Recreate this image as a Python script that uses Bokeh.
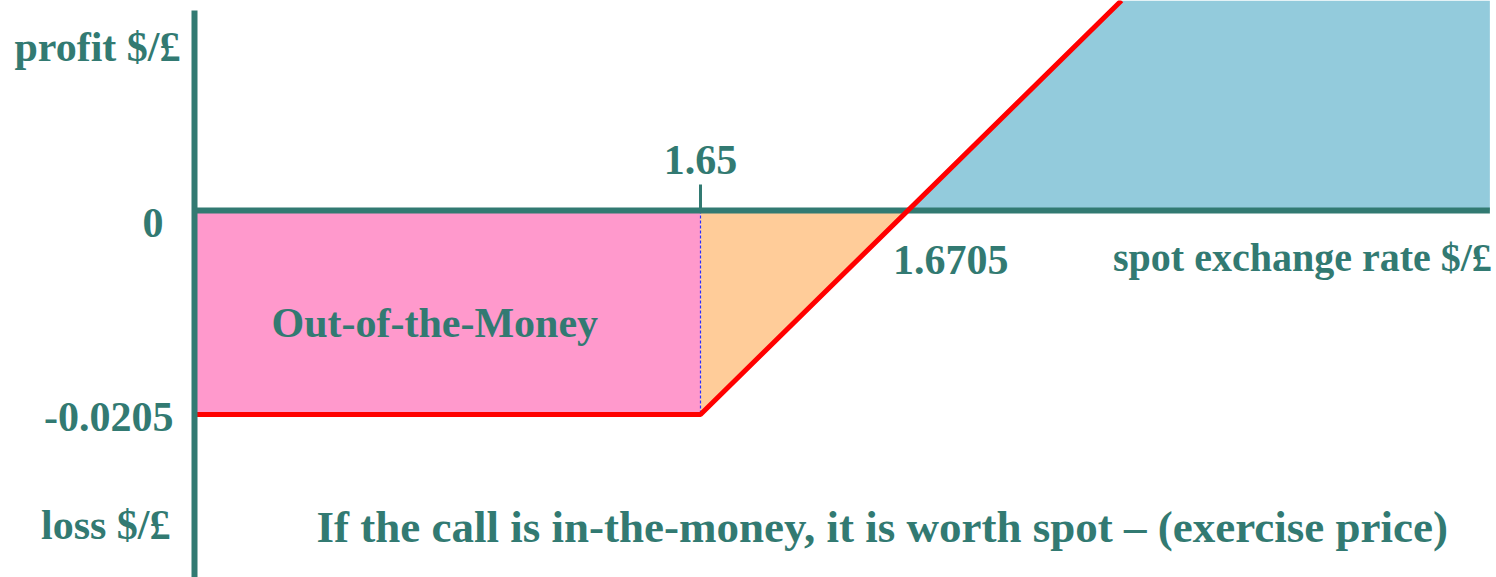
from bokeh.plotting import figure
from bokeh.models import Range1d
from bokeh.core.properties import value
from bokeh.embed import file_html
from bokeh.resources import INLINE

# ---- data ----
strike = 1.65            # exercise price $/£
premium = 0.0205         # call premium $/£
breakeven = 1.6705       # spot rate where profit = 0
axis_x = 1.60            # left end of the spot-rate axis
axis_x_end = 1.728       # right end of the spot-rate axis
axis_y_top = 0.0201      # top of the profit axis
axis_y_bottom = -0.0369  # bottom of the profit axis

# payoff (profit) line of the long call
line_spot = [1.60, 1.65, 1.6916]
line_profit = [-0.0205, -0.0205, 0.0211]

# shaded regions
otm_x = [1.60, 1.65, 1.65, 1.60]
otm_y = [0.0, 0.0, -0.0205, -0.0205]
partial_x = [1.65, 1.65, 1.6705]
partial_y = [0.0, -0.0205, 0.0]
gain_x = [1.6705, 1.6916, 1.728, 1.728]
gain_y = [0.0, 0.0211, 0.0211, 0.0]

TEAL = "#327A72"
PINK = "#FF99CC"
ORANGE = "#FFCC99"
BLUE = "#93CBDC"
RED = "#FF0000"
FONT = value("Liberation Serif")

p = figure(width=1496, height=577, output_backend="svg", toolbar_location=None,
           x_range=Range1d(1.580830, 1.728656), y_range=Range1d(-0.036881, 0.021103),
           min_border=0, min_border_left=0, min_border_right=0,
           min_border_top=0, min_border_bottom=0)
p.axis.visible = False
p.grid.visible = False
p.outline_line_color = None
p.background_fill_color = "white"
p.border_fill_color = "white"

# regions
p.patch(gain_x, gain_y, fill_color=BLUE, line_color=None)
p.patch(otm_x, otm_y, fill_color=PINK, line_color=None)
p.patch(partial_x, partial_y, fill_color=ORANGE, line_color=None)

# dashed line at strike
p.line([strike, strike], [0.0, -premium], line_color="#2B2BFF", line_width=1.2, line_dash="3 2")

# horizontal axis
p.line([axis_x, axis_x_end], [0.0, 0.0], line_color=TEAL, line_width=6)
# tick at strike
p.line([strike, strike], [0.0, 0.0026], line_color=TEAL, line_width=3)

# payoff line
p.line(line_spot, line_profit, line_color=RED, line_width=5)

# vertical axis
p.line([axis_x, axis_x], [axis_y_bottom, axis_y_top], line_color=TEAL, line_width=6)

def label(x, y, txt, align, xo, yo, size="42px"):
    p.text(x=[x], y=[y], text=[txt], text_align=align, text_baseline="alphabetic",
           x_offset=xo, y_offset=yo, text_color=TEAL, text_font=FONT,
           text_font_style="bold", text_font_size=size)

label(axis_x, 0.0, "profit $/£", "right", -14, -163)
label(axis_x, 0.0, "0", "right", -31, 13)
label(axis_x, -premium, "-0.0205", "right", -21, 3)
label(axis_x, -premium, "loss $/£", "right", -24, 111)
label(strike, 0.0, "1.65", "center", 0, -50)
label(breakeven, 0.0, "1.6705", "left", -15, 50)
label(axis_x_end, 0.0, "spot exchange rate $/£", "right", 2, 47, "40px")
label(axis_x, 0.0, "Out-of-the-Money", "left", 77, 113)
label(axis_x, 0.0, "If the call is in-the-money, it is worth spot – (exercise price)",
      "left", 122, 317, "45px")

open("out.html", "w").write(file_html(p, INLINE))
